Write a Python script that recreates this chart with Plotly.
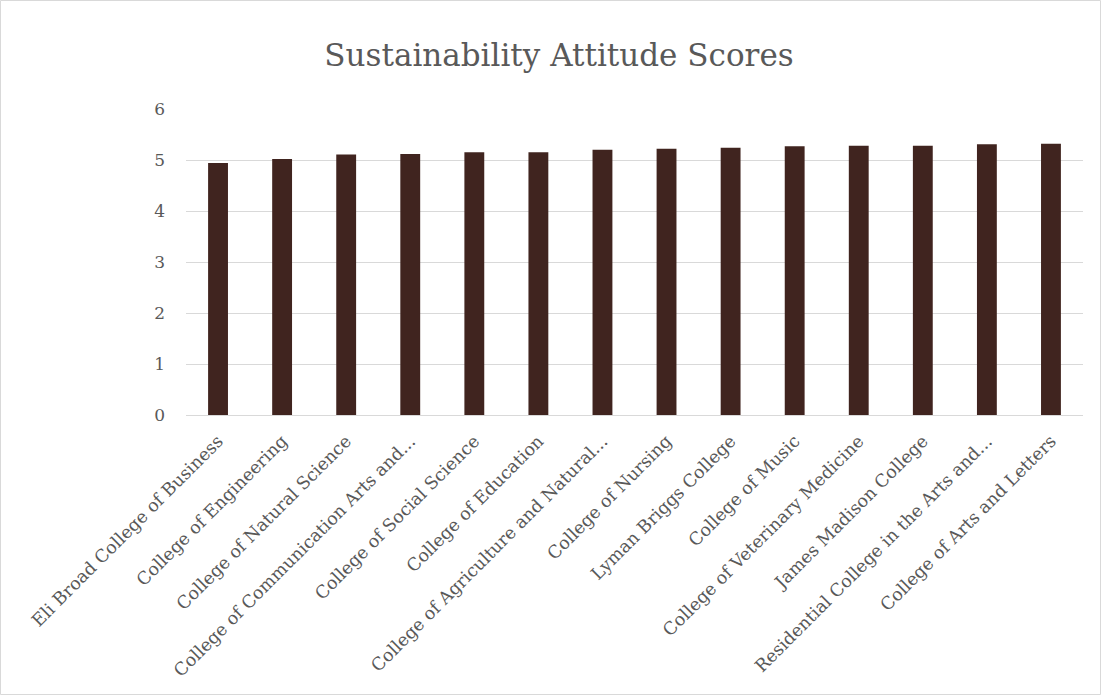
import plotly.graph_objects as go

categories = [
    "Eli Broad College of Business",
    "College of Engineering",
    "College of Natural Science",
    "College of Communication Arts and...",
    "College of Social Science",
    "College of Education",
    "College of Agriculture and Natural...",
    "College of Nursing",
    "Lyman Briggs College",
    "College of Music",
    "College of Veterinary Medicine",
    "James Madison College",
    "Residential College in the Arts and...",
    "College of Arts and Letters",
]
scores = [4.94, 5.02, 5.11, 5.12, 5.15, 5.15, 5.20, 5.22, 5.24, 5.27, 5.28, 5.28, 5.31, 5.32]
y_ticks = [0, 1, 2, 3, 4, 5, 6]

FONT = "DejaVu Serif, Liberation Serif, serif"
GREY = "#595959"

L, R, T, B = 186, 19, 109, 281
W, H = 1102, 696
pw, ph = W - L - R, H - T - B

fig = go.Figure(go.Bar(
    x=categories, y=scores,
    marker=dict(color="#40241f", line=dict(width=0)),
))

fig.update_layout(
    width=W, height=H,
    margin=dict(l=L, r=R, t=T, b=B, autoexpand=False),
    paper_bgcolor="white", plot_bgcolor="white",
    bargap=0.69,
    showlegend=False,
    title=dict(text="Sustainability Attitude Scores", x=(559 - L) / pw, xref="paper",
               xanchor="center", y=1 - 55 / H, yanchor="middle",
               font=dict(family=FONT, size=31, color=GREY)),
    font=dict(family=FONT, color=GREY),
    xaxis=dict(tickangle=-45, tickfont=dict(size=17.5, color=GREY),
               showline=True, linecolor="#d9d9d9", linewidth=1,
               ticks="", showgrid=False, ticklabelstandoff=8),
    yaxis=dict(range=[0, 6], tickvals=y_ticks, tickfont=dict(size=17, color=GREY),
               showgrid=True, gridcolor="#d9d9d9", gridwidth=1,
               zeroline=False, ticks="", ticklabelstandoff=20),
    shapes=[dict(type="rect", xref="paper", yref="paper",
                 x0=-(L - 0.5) / pw, x1=1 + (R - 1.5) / pw,
                 y0=-(B - 1.5) / ph, y1=1 + (T - 0.5) / ph,
                 line=dict(color="#d9d9d9", width=1), fillcolor="rgba(0,0,0,0)",
                 layer="below")],
)

fig.write_html("out.html", config={"displayModeBar": False},
               post_script="document.body.style.margin='0';document.body.style.padding='0';")
